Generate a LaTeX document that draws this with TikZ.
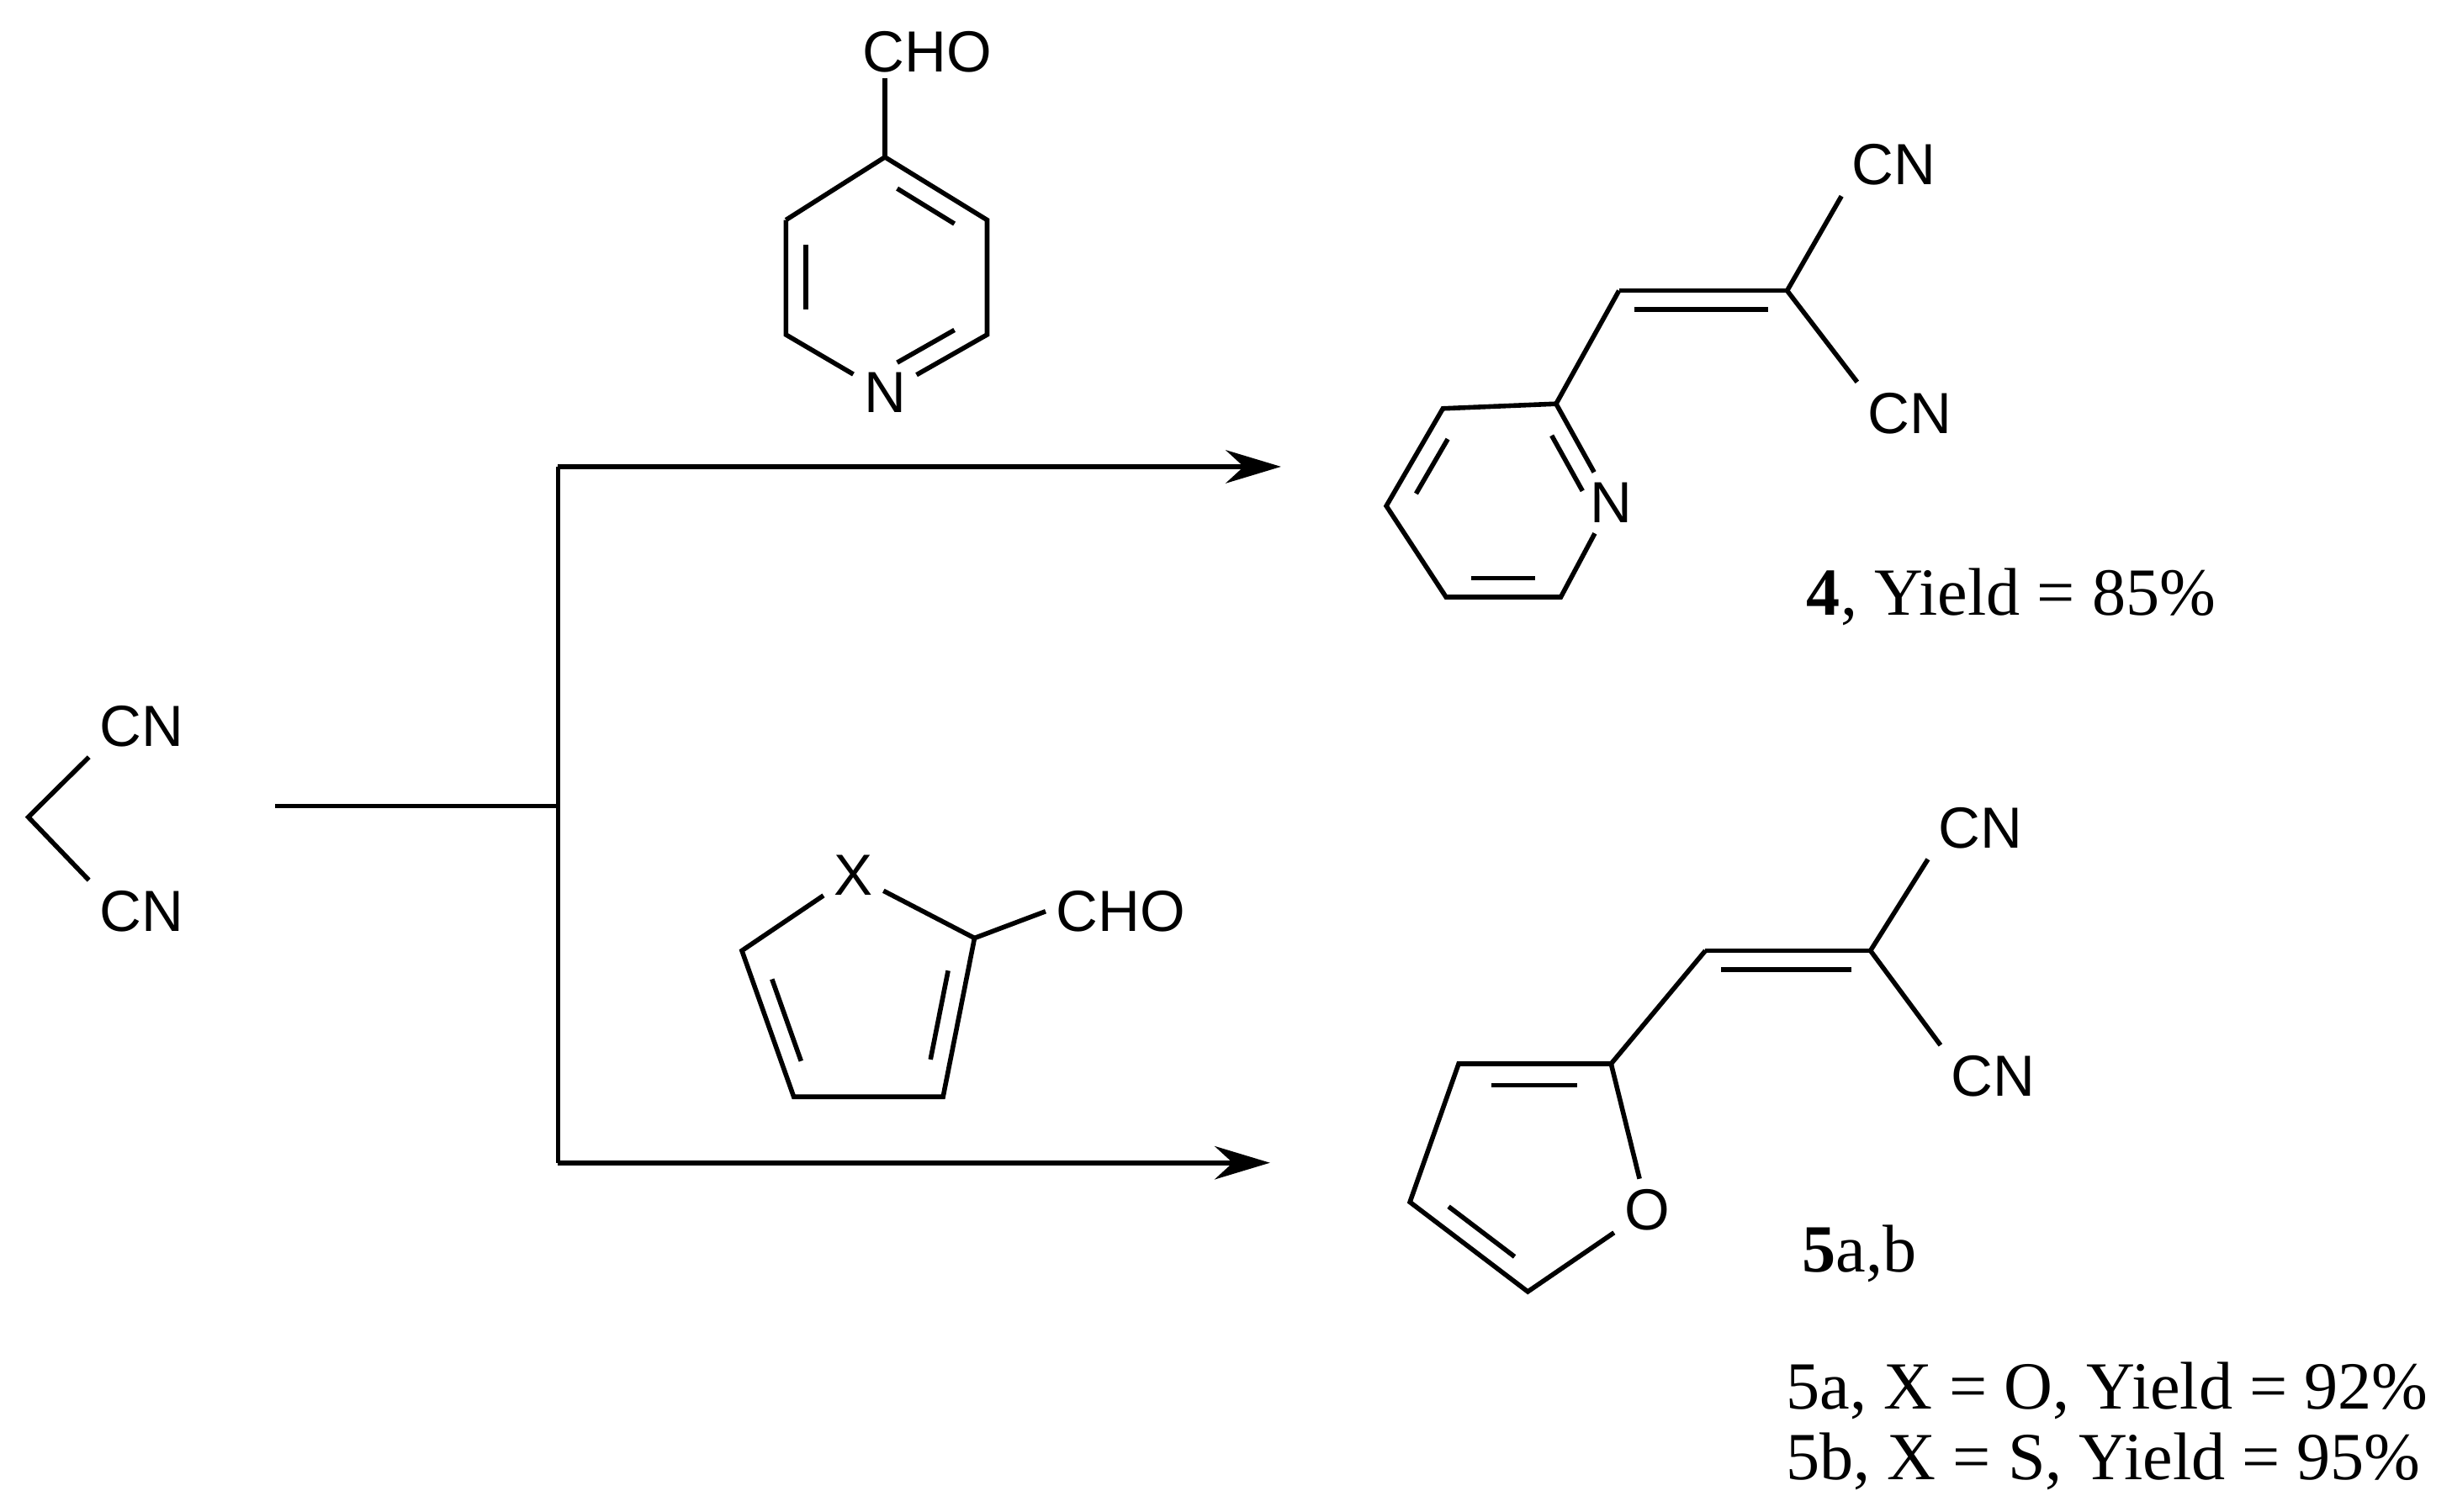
\documentclass[tikz,border=0pt]{standalone}
\usepackage{fontspec}
\setmainfont{Liberation Serif}
\newfontfamily\atomfont{Liberation Sans}
\usetikzlibrary{calc,arrows.meta}
\begin{document}
\begin{tikzpicture}[x=0.01cm,y=-0.01cm,line width=0.85pt,
  atom/.style={font=\atomfont\fontsize{10.5}{12}\selectfont,inner sep=1.5pt},
  lbl/.style={font=\fontsize{12.2}{14}\selectfont,inner sep=0pt,anchor=west},
  rx/.style={-{Stealth[length=10pt,width=6pt]}}]
\useasboundingbox (0,0) rectangle (1560,962);
\newcommand\dbl[3]{\draw ($($(#1)!0.15!(#2)$)!0.2!(#3)$) -- ($($(#1)!0.85!(#2)$)!0.2!(#3)$);}
% malononitrile
\node[atom] (m1) at (90,462) {CN};
\node[atom] (m2) at (90,580) {CN};
\coordinate (m0) at (18,520);
\draw (m1.south west) -- (m0) -- (m2.north west);
% arrows
\coordinate (s0) at (175,513); \coordinate (s1) at (355,513);
\coordinate (t) at (355,297); \coordinate (b) at (355,740);
\coordinate (te) at (815,297); \coordinate (be) at (808,740);
\draw (s0) -- (s1); \draw (t) -- (b);
\draw[rx] (t) -- (te); \draw[rx] (b) -- (be);
% pyridine-4-carbaldehyde
\node[atom] (pcho) at (590,33) {CHO};
\coordinate (p1) at (563,100); \coordinate (p2) at (628,140); \coordinate (p3) at (628,213);
\node[atom] (pN) at (563,250) {N};
\coordinate (pn) at (563,250);
\coordinate (p5) at (500,213); \coordinate (p6) at (500,140);
\coordinate (pc) at (563,176);
\draw (563,50) -- (p1);
\draw (p6) -- (p1) -- (p2) -- (p3) -- (pN);
\draw (pN) -- (p5) -- (p6);
\dbl{p1}{p2}{pc} \dbl{p3}{pn}{pc} \dbl{p5}{p6}{pc}
% product 4
\node[atom] (qa) at (1205,105) {CN};
\node[atom] (qb) at (1215,263) {CN};
\coordinate (qc) at (1137,185); \coordinate (qh) at (1030,185);
\draw (qa.south west) -- (qc) -- (qb.north west);
\draw (qh) -- (qc);
\draw (1040,197) -- (1125,197);
\coordinate (r1) at (990,257); \node[atom] (rN) at (1025,320) {N}; \coordinate (rn) at (1025,320);
\coordinate (r3) at (993,380); \coordinate (r4) at (920,380); \coordinate (r5) at (882,322); \coordinate (r6) at (918,260);
\coordinate (rc) at (955,320);
\draw (qh) -- (r1);
\draw (rN) -- (r1) -- (r6) -- (r5) -- (r4) -- (r3) -- (rN);
\dbl{r1}{rn}{rc} \dbl{r6}{r5}{rc} \dbl{r4}{r3}{rc}
\node[lbl] (l4) at (1148,380) {\textbf{4}, Yield = 85\%};
% furan/thiophene aldehyde
\node[atom] (fX) at (543,557) {X};
\coordinate (f2) at (620,597); \coordinate (f3) at (600,698); \coordinate (f4) at (505,698); \coordinate (f5) at (472,605);
\coordinate (fc) at (548,640);
\node[atom] (fcho) at (713,580) {CHO};
\draw (fX) -- (f2) -- (f3) -- (f4) -- (f5) -- (fX);
\draw (f2) -- (fcho.west);
\dbl{f2}{f3}{fc} \dbl{f4}{f5}{fc}
% product 5
\node[atom] (ga) at (1260,527) {CN};
\node[atom] (gb) at (1268,685) {CN};
\coordinate (gc) at (1190,605); \coordinate (gh) at (1085,605);
\draw (ga.south west) -- (gc) -- (gb.north west);
\draw (gh) -- (gc);
\draw (1095,617) -- (1178,617);
\coordinate (h2) at (1025,677); \node[atom] (hO) at (1048,770) {O};
\coordinate (h5) at (972,822); \coordinate (h4) at (897,765); \coordinate (h3) at (928,677);
\coordinate (hc) at (975,745);
\draw (gh) -- (h2);
\draw (h2) -- (hO) -- (h5) -- (h4) -- (h3) -- (h2);
\dbl{h2}{h3}{hc} \dbl{h4}{h5}{hc}
\node[lbl] (l5) at (1145,798) {\textbf{5}a,b};
\node[lbl] (l5a) at (1135,885) {5a, X = O, Yield = 92\%};
\node[lbl] (l5b) at (1135,930) {5b, X = S, Yield = 95\%};
\end{tikzpicture}
\end{document}
